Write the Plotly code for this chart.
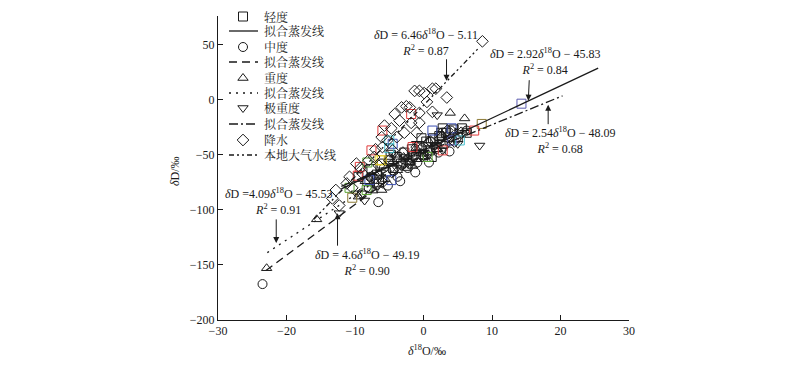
import plotly.graph_objects as go

# ---------------- data ----------------
light_x = [-9.5, -8.2, -7.6, -6.8, -6.1, -5.5, -5.0, -4.4, -3.9, -3.3, -2.8, -2.2, -1.7, -1.1, -0.6, 0.0,
           0.4, 0.9, 1.4, 1.9, 2.3, 2.8, 3.3, 3.8, 4.4, 5.0, 5.6, 6.3, -4.8, -2.5, -0.3, 1.2, 2.6, -6.5, 2.8]
light_y = [-70, -74, -63, -68, -58, -66, -55, -62, -52, -58, -48, -55, -45, -52, -42, -50,
           -38, -46, -35, -43, -33, -40, -30, -37, -27, -34, -26, -30, -50, -60, -35, -52, -30, -75, -26]

medium_x = [-23.5, -6.6, -9.0, -8.0, -7.2, -6.0, -5.2, -4.5, -3.8, -3.0, -2.3, -1.6, -0.9, -0.2, 0.5, 1.1,
            1.8, 2.5, 3.2, 4.0, -5.8, -3.4, -1.2, 0.8, 2.2, -7.8, 4.8, 6.3, 3.8]
medium_y = [-167.4, -93, -85, -80, -76, -72, -78, -64, -70, -57, -62, -51, -57, -44, -50, -38,
            -45, -33, -40, -28, -62, -74, -66, -57, -48, -70, -35, -28, -47]

heavy_x = [-22.9, -15.6, -9.5, -8.5, -7.4, -6.5, -5.6, -4.7, -3.8, -2.9, -2.0, -1.1, -0.2, 0.7, 1.6, 2.5,
           3.4, 6.0, -4.2, -1.6, 0.3, 2.0, -6.1, 3.9]
heavy_y = [-153, -108.6, -88, -74, -82.5, -67, -72, -58, -64, -52, -57, -44, -49, -37, -42, -30,
           -36, -17, -50, -60, -54, -45, -82, -12]

vheavy_x = [-12.3, 8.2, -9.8, -8.6, -7.5, -6.2, -5.0, -3.9, -2.7, -1.6, -0.5, 0.6, 1.7, 2.8, 3.9, 5.0,
            6.0, -6.8, -4.4, -1.0, 2.0, -8.9]
vheavy_y = [-103, -41.6, -85, -91.5, -70, -66, -58, -62, -52, -56, -47, -50, -42, -46, -36, -40,
            -30, -78, -50, -40, -14, -85]

precip_x = [8.6, 3.4, 1.8, 1.3, 0.1, -0.6, -1.3, -3.2, -2.0, -4.2, -0.6, -5.7, -4.7, -3.5, -1.8, -0.6,
            1.3, -2.5, -6.1, -5.3, -3.9, -6.0, -4.5, -7.2, -9.8, -8.9, -10.8, -11.2, -10.4, -13.3, -12.8,
            -12.3, -8.0, -7.0, -9.2, -6.5, -2.8, -1.0, 0.5, -1.0, 1.0, 2.5, -3.0, -5.0, 0.0, 3.5, -7.5,
            -2.0, 4.5, -6.0, 5.5]
precip_y = [53, 2, 10, 10, 6, 8, 8, -7, -7, -13, -12, -23.5, -26, -19, -21, -21,
            -11, -6, -34, -37, -34, -43, -46, -52, -58, -67, -70, -76, -80, -89.6, -82,
            -96, -55, -45, -62, -60, -30, -30, -2, -43, -38, -35, -48, -55, -50, -28, -70,
            -58, -38, -75, -30]

site_x = [14.3, -7.6, -5.0, -4.5, -6.1, -7.9, -8.2, -9.6, -6.0, -4.7, 1.3, 4.1, 4.2, 5.3, 8.5, 7.4,
          -1.6, 0.6, 2.8, -1.8, -10.8, -8.3, -9.3, -6.4, -10.4, -5.0]
site_y = [-3.6, -46, -44, -40, -55, -73, -57, -69, -28, -73, -28, -26, -37, -37, -22, -28,
          -43, -52, -46, -13, -80, -82, -61, -55, -89, -37]
site_c = ["#5b5bb0", "#e23b3b", "#45c1cf", "#3b4fb2", "#e6cf2a", "#3b4fb2", "#5ca534", "#e23b3b",
          "#e23b3b", "#3b4fb2", "#3b4fb2", "#3b4fb2", "#6a6ad0", "#45c1cf", "#8c7a36", "#e23b3b",
          "#e23b3b", "#5ca534", "#e23b3b", "#e23b3b", "#5ca534", "#5ca534", "#e23b3b", "#e6cf2a",
          "#8c7a36", "#45c1cf"]

# fitted lines (end points)
fit_light_x = [-12.0, 25.5]
fit_light_y = [-80.9, 28.6]
fit_medium_x = [-23.0, 5.0]
fit_medium_y = [-155.0, -26.2]
fit_heavy_x = [-22.8, 5.0]
fit_heavy_y = [-138.8, -25.1]
fit_vheavy_x = [-12.0, 20.3]
fit_vheavy_y = [-78.6, 3.5]
lmwl_x = [-16.0, 7.9]
lmwl_y = [-108.5, 45.9]

x_ticks = [-30, -20, -10, 0, 10, 20, 30]
y_ticks = [-200, -150, -100, -50, 0, 50]

legend_labels = ["轻度", "拟合蒸发线", "中度", "拟合蒸发线", "重度", "拟合蒸发线",
                 "极重度", "拟合蒸发线", "降水", "本地大气水线"]

eq_texts = [
    "<i>δ</i>D = 6.46<i>δ</i><sup>18</sup>O − 5.11<br><i>R</i><sup>2</sup> = 0.87",
    "<i>δ</i>D = 2.92<i>δ</i><sup>18</sup>O − 45.83<br><i>R</i><sup>2</sup> = 0.84",
    "<i>δ</i>D = 2.54<i>δ</i><sup>18</sup>O − 48.09<br><i>R</i><sup>2</sup> = 0.68",
    "<i>δ</i>D =4.09<i>δ</i><sup>18</sup>O − 45.53<br><i>R</i><sup>2</sup> = 0.91",
    "<i>δ</i>D = 4.6<i>δ</i><sup>18</sup>O − 49.19<br><i>R</i><sup>2</sup> = 0.90",
]

# ---------------- styling ----------------
SERIF = "Liberation Serif, Times New Roman, serif"
CJK = "Noto Serif CJK SC, Noto Sans CJK SC, serif"
BLACK = "#1a1a1a"
MS = 9

X_RANGE = [-30, 30]
Y_RANGE = [-200, 76]

# page body margin offset (px) and target plot area in screen pixels
OFF = 8
SL, SR, ST, SB = 218, 629, 16, 320
W, H = 800 - 2 * OFF, 367 - 2 * OFF
L, R, T, B = SL - OFF, SR - OFF, ST - OFF, SB - OFF


def px2paper(px, py):
    return (px - SL) / (SR - SL), (SB - py) / (SB - ST)


def px2data(px, py):
    xp, yp = px2paper(px, py)
    return (X_RANGE[0] + xp * (X_RANGE[1] - X_RANGE[0]),
            Y_RANGE[0] + yp * (Y_RANGE[1] - Y_RANGE[0]))


fig = go.Figure()


def pts(x, y, sym, name, color=BLACK):
    fig.add_trace(go.Scatter(x=x, y=y, mode="markers", name=name, showlegend=False,
                             marker=dict(symbol=sym, size=MS, color=color,
                                         line=dict(color=color, width=1))))


def fitline(x, y, dash, name):
    fig.add_trace(go.Scatter(x=x, y=y, mode="lines", name=name, showlegend=False,
                             line=dict(color=BLACK, width=1.3, dash=dash)))


pts(light_x, light_y, "square-open", "轻度")
pts(medium_x, medium_y, "circle-open", "中度")
pts(heavy_x, heavy_y, "triangle-up-open", "重度")
pts(vheavy_x, vheavy_y, "triangle-down-open", "极重度")
fig.add_trace(go.Scatter(x=site_x, y=site_y, mode="markers", showlegend=False,
                         marker=dict(symbol="square-open", size=MS, color=site_c,
                                     line=dict(color=site_c, width=1))))
pts(precip_x, precip_y, "diamond-open", "降水")

DASH_LIGHT = "solid"
DASH_MED = "8px,5px"
DASH_HEAVY = "2px,5px"
DASH_VHEAVY = "9px,3px,2px,3px"
DASH_LMWL = "5px,3px,2px,3px,2px,3px"

fitline(fit_light_x, fit_light_y, DASH_LIGHT, "拟合蒸发线")
fitline(fit_medium_x, fit_medium_y, DASH_MED, "拟合蒸发线")
fitline(fit_heavy_x, fit_heavy_y, DASH_HEAVY, "拟合蒸发线")
fitline(fit_vheavy_x, fit_vheavy_y, DASH_VHEAVY, "拟合蒸发线")
fitline(lmwl_x, lmwl_y, DASH_LMWL, "本地大气水线")

# ---------------- custom legend (screen pixel positions) ----------------
rows = [16.5, 31, 47, 62, 78, 93, 108, 124, 140, 155]
sym_rows = [(0, "square-open"), (2, "circle-open"), (4, "triangle-up-open"),
            (6, "triangle-down-open"), (8, "diamond-open")]
for i, s in sym_rows:
    xd, yd = px2data(243, rows[i])
    fig.add_trace(go.Scatter(x=[xd], y=[yd], mode="markers",
                             showlegend=False, cliponaxis=False, hoverinfo="skip",
                             marker=dict(symbol=s, size=MS, color=BLACK,
                                         line=dict(color=BLACK, width=1))))
line_rows = [(1, DASH_LIGHT), (3, DASH_MED), (5, DASH_HEAVY), (7, DASH_VHEAVY), (9, DASH_LMWL)]
for i, d in line_rows:
    x0, yd = px2data(229, rows[i])
    x1, _ = px2data(258, rows[i])
    fig.add_trace(go.Scatter(x=[x0, x1], y=[yd, yd], mode="lines",
                             showlegend=False, cliponaxis=False, hoverinfo="skip",
                             line=dict(color=BLACK, width=1.3, dash=d)))

annotations = []
for i, lab in enumerate(legend_labels):
    xp, yp = px2paper(262, rows[i] - 0.5)
    annotations.append(dict(x=xp, y=yp, xref="paper", yref="paper", text=lab, showarrow=False,
                            xanchor="left", yanchor="middle",
                            font=dict(family=CJK, size=12, color=BLACK)))

# equation texts (pixel positions)
eq_pos = [(426, 43), (545, 62), (560, 140), (278, 201), (367, 262)]
for (px, py), t in zip(eq_pos, eq_texts):
    xp, yp = px2paper(px, py)
    annotations.append(dict(x=xp, y=yp, xref="paper", yref="paper", text=t, showarrow=False,
                            xanchor="center", yanchor="middle", align="center",
                            font=dict(family=SERIF, size=12, color=BLACK)))

# arrows: tip in data coords, tail as pixel offset
arrows = [(3.36, 17.2, 0, -23), (15.3, -0.9, 1, -22), (18.2, -4.5, 0, 21),
          (-21.5, -130.0, 0, -25), (-12.55, -103.0, 0, 34)]
for x, y, ax, ay in arrows:
    annotations.append(dict(x=x, y=y, xref="x", yref="y", ax=ax, ay=ay, text="",
                            showarrow=True, arrowhead=2, arrowsize=1.2, arrowwidth=1,
                            arrowcolor=BLACK, standoff=0, startstandoff=0))

# axis titles
xp, yp = px2paper(175, 171)
annotations.append(dict(x=xp, y=yp, xref="paper", yref="paper", text="<i>δ</i>D/‰", textangle=-90,
                        showarrow=False, xanchor="center", yanchor="middle",
                        font=dict(family=SERIF, size=12, color=BLACK)))
xp, yp = px2paper(427, 350)
annotations.append(dict(x=xp, y=yp, xref="paper", yref="paper", text="<i>δ</i><sup>18</sup>O/‰",
                        showarrow=False, xanchor="center", yanchor="middle",
                        font=dict(family=SERIF, size=12, color=BLACK)))

axis_common = dict(showgrid=False, zeroline=False, showline=True, linecolor=BLACK, linewidth=1,
                   ticks="inside", ticklen=5, tickwidth=1, tickcolor=BLACK, automargin=False,
                   tickfont=dict(family=SERIF, size=12, color=BLACK))

fig.update_layout(
    width=W, height=H,
    margin=dict(l=L, r=W - R, t=T, b=H - B, pad=0, autoexpand=False),
    paper_bgcolor="white", plot_bgcolor="white",
    showlegend=False,
    xaxis=dict(range=X_RANGE, tickvals=x_ticks, **axis_common),
    yaxis=dict(range=Y_RANGE, tickvals=y_ticks, **axis_common),
    annotations=annotations,
)

fig.write_html("out.html")
